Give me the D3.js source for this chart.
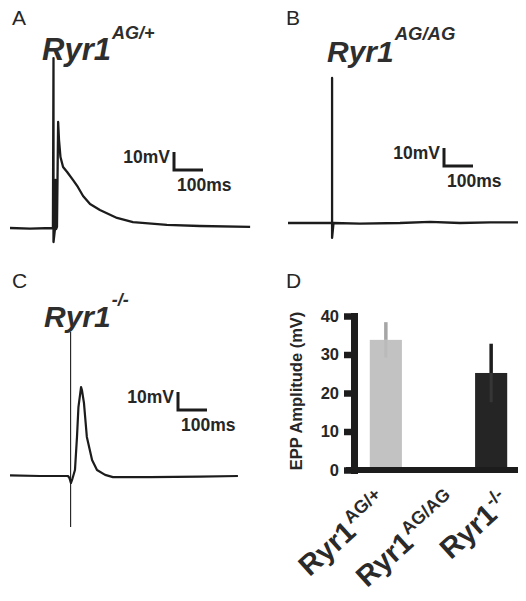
<!DOCTYPE html>
<html>
<head>
<meta charset="utf-8">
<script src="https://cdn.jsdelivr.net/npm/d3@7"></script>
<style>
  html, body { margin: 0; padding: 0; background: #fff; }
  svg { display: block; font-family: "Liberation Sans", Arial, Helvetica, sans-serif; }
</style>
</head>
<body>
<svg id="fig" width="526" height="601"></svg>
<script>
// ---------- DATA ----------
// Panel A trace: time (ms) and membrane potential change (mV)
const traceA_t = [0, 69, 148, 150, 150, 155, 157, 159, 162, 166, 169, 174, 183, 197, 217, 234, 252, 276, 310, 369, 424, 541, 655, 828];
const traceA_v = [0, -0.3, 0, 94.4, -7.8, -0.6, 26.7, -0.6, 0.6, 58.9, 48.9, 39.4, 33.9, 31.1, 26.7, 22.8, 17.8, 13.3, 10, 5.6, 3.3, 1.7, 1.1, 0.6];
// Panel B trace
const traceB_t = [0, 152, 152, 152, 157, 248, 386, 490, 593, 697, 793];
const traceB_v = [0, 0, 80.6, -8.3, 0, -0.3, 0, 0.6, 0, 0.3, 0.3];
// Panel C trace (response) and stimulus artifact
const traceC_t = [0, 103, 200, 205, 210, 214, 224, 231, 236, 245, 248, 255, 265, 283, 300, 328, 355, 483, 655, 786];
const traceC_v = [0.3, 0, 0, -1.1, -3.9, -2.2, 3.3, 21.7, 38.3, 49.4, 47.8, 40.6, 21.7, 8.9, 3.3, 0.6, -0.6, -0.6, -0.3, 0];
const artifactC_t = [209, 209];
const artifactC_v = [80, -28.3];
// Panel D bar chart
const genotypes = ["AG/+", "AG/AG", "-/-"];
const eppMean = [33.8, 0, 25.2];
const eppErr = [4.6, 0, 7.6];
const yTicks = [0, 10, 20, 30, 40];
const panelLetters = ["A", "B", "C", "D"];

// ---------- DRAW ----------
const svg = d3.select("#fig");
const ink = "#1c1c1c";
const textCol = "#262626";

// panel letters
const letterPos = [[12, 25], [286, 25], [12, 288], [286, 288]];
panelLetters.forEach((L, i) => {
  svg.append("text").attr("x", letterPos[i][0]).attr("y", letterPos[i][1])
    .attr("font-size", 21).attr("fill", textCol).text(L);
});

// titles with superscripts
function title(x, y, sup, size, supSize, supDy) {
  const t = svg.append("text").attr("x", x).attr("y", y)
    .attr("font-weight", "bold").attr("font-style", "italic").attr("fill", "#2e2e2e");
  t.append("tspan").attr("font-size", size).text("Ryr1");
  t.append("tspan").attr("font-size", supSize).attr("dx", 1).attr("dy", supDy).text(sup);
}
title(42, 60, genotypes[0], 31, 18, -21);
title(327, 62, genotypes[1], 30, 18.5, -22);
title(44, 327, genotypes[2], 30, 18, -21);

// trace scales (100 ms = 29 px, 10 mV = 18 px)
function mk(x0, y0) {
  return {
    x: d3.scaleLinear().domain([0, 100]).range([x0, x0 + 29]),
    y: d3.scaleLinear().domain([0, 10]).range([y0, y0 - 18])
  };
}
const sA = mk(10, 228), sB = mk(288, 223), sC = mk(10, 476);

function drawTrace(s, ts, vs, w) {
  const pts = ts.map((t, i) => [t, vs[i]]);
  const line = d3.line().x(d => s.x(d[0])).y(d => s.y(d[1]));
  svg.append("path").attr("d", line(pts)).attr("fill", "none")
    .attr("stroke", ink).attr("stroke-width", w).attr("stroke-linejoin", "round");
}
drawTrace(sA, traceA_t, traceA_v, 2.3);
drawTrace(sB, traceB_t, traceB_v, 2.3);
drawTrace(sC, traceC_t, traceC_v, 2.2);
drawTrace(sC, artifactC_t, artifactC_v, 1.1);

// scale bars
function scaleBar(s, cx, cy) {
  const h = s.y(0) - s.y(10);
  const w = s.x(100) - s.x(0);
  svg.append("path").attr("d", `M${cx},${cy - h}V${cy}H${cx + w}`)
    .attr("fill", "none").attr("stroke", ink).attr("stroke-width", 3);
  svg.append("text").attr("x", cx - 4).attr("y", cy - 7).attr("text-anchor", "end")
    .attr("font-size", 17.5).attr("font-weight", "bold").attr("fill", textCol).text("10mV");
  svg.append("text").attr("x", cx + 3).attr("y", cy + 21)
    .attr("font-size", 17.5).attr("font-weight", "bold").attr("fill", textCol).text("100ms");
}
scaleBar(sA, 174, 170);
scaleBar(sB, 444, 166);
scaleBar(sC, 178, 410);

// ---------- Panel D ----------
const x = d3.scaleBand().domain(genotypes).range([354, 523]).paddingInner(0.39).paddingOuter(0.3);
const y = d3.scaleLinear().domain([0, 40]).range([470, 316]);
const barFill = ["#c2c2c2", "#aaaaaa", "#252525"];
const errUp = ["#a6a6a6", "#888888", "#1e1e1e"];
const errDown = ["#bababa", "#999999", "#363636"];

const gBars = svg.append("g");
genotypes.forEach((g, i) => {
  if (eppMean[i] <= 0) return;
  const cx = x(g) + x.bandwidth() / 2;
  gBars.append("rect").attr("x", x(g)).attr("width", x.bandwidth())
    .attr("y", y(eppMean[i])).attr("height", y(0) - y(eppMean[i])).attr("fill", barFill[i]);
  gBars.append("line").attr("x1", cx).attr("x2", cx)
    .attr("y1", y(eppMean[i])).attr("y2", y(eppMean[i] + eppErr[i]))
    .attr("stroke", errUp[i]).attr("stroke-width", 3.5);
  gBars.append("line").attr("x1", cx).attr("x2", cx)
    .attr("y1", y(eppMean[i] - eppErr[i])).attr("y2", y(eppMean[i]))
    .attr("stroke", errDown[i]).attr("stroke-width", 3);
});

// y axis
const yAxis = d3.axisLeft(y).tickValues(yTicks).tickSize(10).tickSizeOuter(0).tickPadding(5);
const gy = svg.append("g").attr("transform", "translate(354,0)").call(yAxis);
gy.select(".domain").attr("stroke", ink).attr("stroke-width", 7).attr("stroke-linecap", "square");
gy.selectAll(".tick line").attr("stroke", ink).attr("stroke-width", 6.5);
gy.selectAll(".tick text").attr("font-size", 16.5).attr("font-weight", "bold")
  .attr("fill", textCol).attr("font-family", "Liberation Sans, Arial, sans-serif");

// x axis bar
svg.append("line").attr("x1", 346).attr("x2", 518).attr("y1", y(0)).attr("y2", y(0))
  .attr("stroke", ink).attr("stroke-width", 6);

// y label
svg.append("text").attr("transform", "translate(302,391) rotate(-90)")
  .attr("text-anchor", "middle").attr("font-size", 16.5).attr("font-weight", "bold")
  .attr("fill", textCol).text("EPP Amplitude (mV)");

// x category labels (rotated -42 degrees, anchored at their upper-right end)
const labelNudge = [-17, 0, 0];
genotypes.forEach((g, i) => {
  const cx = x(g) + x.bandwidth() / 2 + 21 + labelNudge[i];
  const grp = svg.append("g").attr("transform", `translate(${cx},505) rotate(-42)`);
  const t = grp.append("text")
    .attr("text-anchor", "end").attr("font-weight", "bold").attr("fill", "#2a2a2a");
  t.append("tspan").attr("font-size", 29).text("Ryr1");
  t.append("tspan").attr("font-size", 18).attr("dx", 1).attr("dy", -12).text(g);
});
</script>
</body>
</html>
